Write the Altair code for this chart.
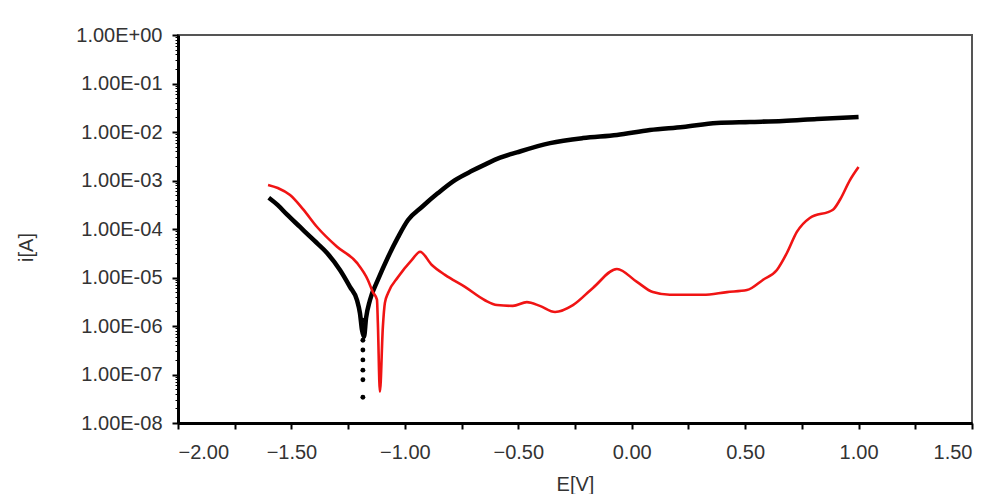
import altair as alt
import pandas as pd

# Black curve (E [V], i [A])
black_E = [-1.600, -1.560, -1.520, -1.462, -1.400, -1.343, -1.286, -1.242, -1.211,
           -1.198, -1.189, -1.180, -1.171, -1.154, -1.119, -1.074, -1.030, -0.986,
           -0.925, -0.854, -0.779, -0.704, -0.650, -0.580, -0.506, -0.360, -0.215,
           -0.065, 0.080, 0.226, 0.375, 0.521, 0.666, 0.816, 1.000]
black_I = [4.4e-4, 3.1e-4, 2.0e-4, 1.10e-4, 5.8e-5, 3.2e-5, 1.43e-5, 6.4e-6, 3.4e-6,
           1.85e-6, 8.3e-7, 6.0e-7, 1.46e-6, 3.4e-6, 8.9e-6, 2.65e-5, 6.8e-5, 1.53e-4,
           2.84e-4, 5.5e-4, 1.02e-3, 1.58e-3, 2.1e-3, 2.95e-3, 3.8e-3, 5.9e-3, 7.5e-3,
           8.7e-3, 1.10e-2, 1.27e-2, 1.53e-2, 1.61e-2, 1.69e-2, 1.85e-2, 2.04e-2]

# Sparse dotted tail of the black curve near its minimum
tail_E = [-1.186, -1.186, -1.185, -1.185, -1.185, -1.185, -1.185, -1.185]
tail_I = [1.32e-6, 8.3e-7, 5.1e-7, 3.2e-7, 2.0e-7, 1.23e-7, 7.8e-8, 3.4e-8]

# Red curve
red_E = [-1.603, -1.560, -1.506, -1.450, -1.387, -1.299, -1.211, -1.163, -1.141,
         -1.123, -1.119, -1.110, -1.097, -1.088, -1.074, -1.030, -0.969, -0.933,
         -0.881, -0.823, -0.735, -0.647, -0.594, -0.524, -0.462, -0.405, -0.338,
         -0.259, -0.171, -0.065, 0.023, 0.093, 0.168, 0.314, 0.420, 0.508, 0.578,
         0.640, 0.684, 0.728, 0.785, 0.887, 0.918, 0.962, 1.000]
red_I = [8.1e-4, 7.0e-4, 5.0e-4, 2.6e-4, 1.10e-4, 4.3e-5, 2.0e-5, 8.9e-6, 5.0e-6,
         3.5e-6, 1.15e-6, 4.4e-8, 9.5e-7, 3.0e-6, 4.8e-6, 1.02e-5, 2.3e-5, 3.4e-5,
         1.81e-5, 1.13e-5, 6.4e-6, 3.4e-6, 2.7e-6, 2.6e-6, 3.1e-6, 2.6e-6, 1.95e-6,
         2.7e-6, 6.1e-6, 1.5e-5, 8.1e-6, 5.0e-6, 4.4e-6, 4.4e-6, 5.0e-6, 5.5e-6,
         8.9e-6, 1.43e-5, 3.2e-5, 8.7e-5, 1.69e-4, 2.5e-4, 4.0e-4, 1.02e-3, 1.9e-3]

x_ticks = [-2.0, -1.75, -1.5, -1.25, -1.0, -0.75, -0.5, -0.25, 0.0, 0.25, 0.5, 0.75, 1.0, 1.25, 1.5]
y_ticks = [1e-8, 1e-7, 1e-6, 1e-5, 1e-4, 1e-3, 1e-2, 1e-1, 1e0]
y_minor = [k * d for d in [1e-8, 1e-7, 1e-6, 1e-5, 1e-4, 1e-3, 1e-2, 1e-1] for k in range(2, 10)]

black = pd.DataFrame({"E": black_E, "I": black_I, "i": range(len(black_E))})
tail = pd.DataFrame({"E": tail_E, "I": tail_I})
red = pd.DataFrame({"E": red_E, "I": red_I, "i": range(len(red_E))})

FONT = "Liberation Sans"
TXT = "#333333"

x_axis = alt.Axis(
    values=x_ticks, grid=False,
    labelExpr="abs(datum.value*2 - round(datum.value*2)) < 0.001 ? format(datum.value, '.2f') : ''",
    tickSize=6, tickWidth=2, tickColor="black",
    domainColor="black", domainWidth=3,
    labelFont=FONT, labelFontSize=20, labelColor=TXT, labelPadding=13,
    title="E[V]", titleFont=FONT, titleFontSize=20, titleFontWeight="normal",
    titleColor=TXT, titleBaseline="middle", titleY=61,
)
y_axis = alt.Axis(
    values=y_ticks, orient="left", grid=False,
    labelExpr="'1.00E' + (round(log(datum.value)/LN10) >= 0 ? '+' : '-') + (abs(round(log(datum.value)/LN10)) < 10 ? '0' : '') + abs(round(log(datum.value)/LN10))",
    tickSize=6, tickWidth=2, tickColor="black",
    domainColor="black", domainWidth=3,
    labelFont=FONT, labelFontSize=20, labelColor=TXT, labelPadding=10,
    labelBaseline="middle",
    title="i[A]", titleFont=FONT, titleFontSize=20, titleFontWeight="normal",
    titleColor=TXT, titleX=-152, titleY=212, titleAlign="center", titleBaseline="middle",
)
y_minor_axis = alt.Axis(
    values=y_minor, orient="left", grid=False, labels=False, domain=False,
    tickSize=3, tickWidth=1, tickColor="black", title=None,
)

xs = alt.Scale(domain=[-2, 1.5], nice=False, zero=False)
ys = alt.Scale(type="log", domain=[1e-8, 1], nice=False)

black_line = alt.Chart(black).mark_line(color="black", strokeWidth=4.5, clip=True,
                                        interpolate="monotone").encode(
    x=alt.X("E:Q", scale=xs, axis=x_axis),
    y=alt.Y("I:Q", scale=ys, axis=y_axis),
    order="i:Q",
)
tail_pts = alt.Chart(tail).mark_point(filled=True, color="black", size=24, opacity=1, clip=True).encode(
    x=alt.X("E:Q", scale=xs, axis=x_axis),
    y=alt.Y("I:Q", scale=ys, axis=y_minor_axis),
)
red_line = alt.Chart(red).mark_line(color="#f01414", strokeWidth=2.6, clip=True,
                                    interpolate="monotone").encode(
    x=alt.X("E:Q", scale=xs, axis=x_axis),
    y=alt.Y("I:Q", scale=ys, axis=None),
    order="i:Q",
)

chart = alt.layer(black_line, tail_pts, red_line).resolve_axis(y="independent").properties(
    width=794, height=388,
    autosize=alt.AutoSizeParams(type="none"),
    padding={"left": 170, "top": 27, "right": 12, "bottom": 71},
    background="white",
).configure_view(stroke="#555555", strokeWidth=2)

chart.save("out.html", embed_options={"renderer": "svg", "actions": False})
